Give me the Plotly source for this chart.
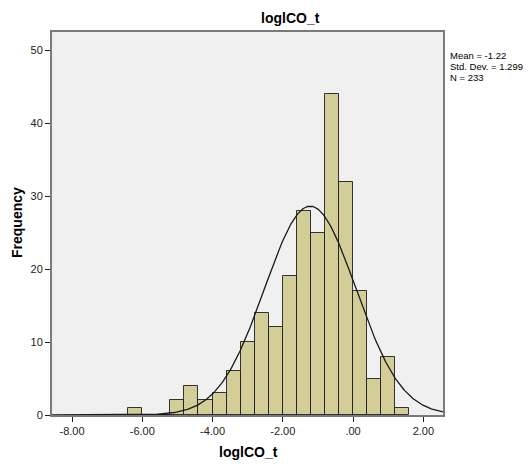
import numpy as np
import plotly.graph_objects as go

# Histogram data (bin width 0.4)
bin_left = [-6.4, -6.0, -5.6, -5.2, -4.8, -4.4, -4.0, -3.6, -3.2, -2.8, -2.4, -2.0,
            -1.6, -1.2, -0.8, -0.4, 0.0, 0.4, 0.8, 1.2]
counts = [1, 0, 0, 2, 4, 2, 3, 6, 10, 14, 12, 19, 28, 25, 44, 32, 17, 5, 8, 1]
bin_width = 0.4

stat_mean = -1.22
stat_sd = 1.299
stat_n = 233

x_tickvals = [-8, -6, -4, -2, 0, 2]
x_ticktext = ["-8.00", "-6.00", "-4.00", "-2.00", ".00", "2.00"]
y_tickvals = [0, 10, 20, 30, 40, 50]

x_range = [-8.57, 2.56]
y_range = [0, 52.5]

centers = [b + bin_width / 2 for b in bin_left]

# Normal curve from displayed stats
xc = np.linspace(x_range[0], x_range[1], 400)
yc = stat_n * bin_width * np.exp(-0.5 * ((xc - stat_mean) / stat_sd) ** 2) / (stat_sd * np.sqrt(2 * np.pi))

FONT = "Arial, Liberation Sans, sans-serif"

fig = go.Figure()
fig.add_trace(go.Bar(
    x=centers, y=counts, width=bin_width,
    marker=dict(color="#D3CE97", line=dict(color="rgba(20,20,20,0.85)", width=1)),
    hoverinfo="x+y",
))
fig.add_trace(go.Scatter(
    x=xc, y=yc, mode="lines",
    line=dict(color="#1a1a1a", width=1.3),
    hoverinfo="skip",
))

L, R, T, B = 52, 88, 32, 49
W, H = 531, 464
pw = W - L - R
ph = H - T - B

def px_x(p):
    return (p - L) / pw

def px_y(p):
    return (H - B - p) / ph

annotations = [
    dict(text="<b>loglCO_t</b>", x=px_x(290), y=px_y(18), xref="paper", yref="paper",
         showarrow=False, xanchor="center", yanchor="middle",
         font=dict(family=FONT, size=14, color="#000")),
    dict(text="<b>loglCO_t</b>", x=px_x(248), y=px_y(452), xref="paper", yref="paper",
         showarrow=False, xanchor="center", yanchor="middle",
         font=dict(family=FONT, size=14, color="#000")),
    dict(text="<b>Frequency</b>", x=px_x(17), y=px_y(223), xref="paper", yref="paper",
         showarrow=False, xanchor="center", yanchor="middle", textangle=-90,
         font=dict(family=FONT, size=14, color="#000")),
]
stats_lines = [f"Mean = {stat_mean}", f"Std. Dev. = {stat_sd}", f"N = {stat_n}"]
for i, s in enumerate(stats_lines):
    annotations.append(dict(text=s, x=px_x(448), y=px_y(56 + 10.5 * i), xref="paper", yref="paper",
                            showarrow=False, xanchor="left", yanchor="middle",
                            font=dict(family=FONT, size=9.5, color="#000")))

fig.update_layout(
    width=W, height=H,
    margin=dict(l=L, r=R, t=T, b=B),
    paper_bgcolor="white",
    plot_bgcolor="#F0F0F0",
    showlegend=False,
    bargap=0,
    annotations=annotations,
    font=dict(family=FONT, size=11, color="#222"),
)
fig.update_xaxes(
    range=x_range, tickvals=x_tickvals, ticktext=x_ticktext,
    showgrid=False, zeroline=False,
    showline=True, linecolor="#7a7a7a", linewidth=2, mirror=True,
    ticks="outside", ticklen=5, tickcolor="#222", tickwidth=1,
    tickfont=dict(family=FONT, size=11, color="#222"),
)
fig.update_yaxes(
    range=y_range, tickvals=y_tickvals,
    showgrid=False, zeroline=False,
    showline=True, linecolor="#7a7a7a", linewidth=2, mirror=True,
    ticks="outside", ticklen=5, tickcolor="#222", tickwidth=1,
    tickfont=dict(family=FONT, size=11, color="#222"),
)

fig.write_html("out.html", config={"displayModeBar": False},
               post_script="document.body.style.margin='0px';document.body.style.overflow='hidden';")
